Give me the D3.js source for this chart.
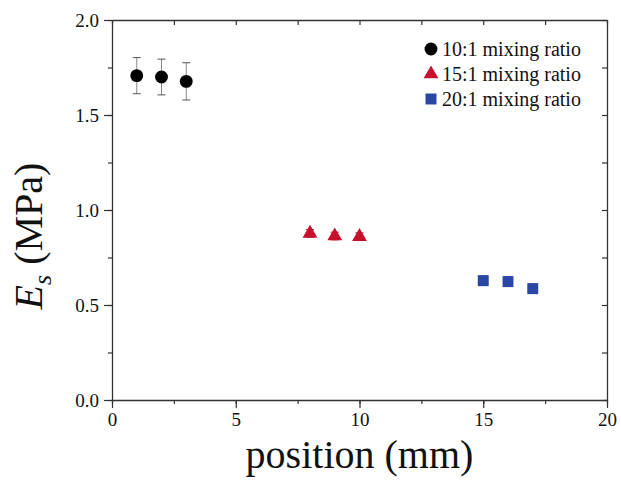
<!DOCTYPE html>
<html>
<head>
<meta charset="utf-8">
<script src="https://cdn.jsdelivr.net/npm/d3@7"></script>
<style>
  body { margin: 0; background: #fff; }
  text { font-family: "Liberation Serif", "Times New Roman", serif; }
</style>
</head>
<body>
<div class="chart"></div>
<script>
// data
var seriesNames = ["10:1 mixing ratio", "15:1 mixing ratio", "20:1 mixing ratio"];
var seriesColors = ["#000000", "#c8102e", "#2b47a6"];
var seriesShapes = ["circle", "triangle", "square"];
var pos10 = [1, 2, 3];
var es10 = [1.707, 1.700, 1.677];
var err10 = [0.095, 0.094, 0.098];
var pos15 = [8, 9, 10];
var es15 = [0.877, 0.863, 0.860];
var err15 = [0.02, 0.02, 0.02];
var pos20 = [15, 16, 17];
var es20 = [0.628, 0.623, 0.586];
var err20 = [0.025, 0.025, 0.025];
var xTicks = [0, 5, 10, 15, 20];
var yTicks = [0.0, 0.5, 1.0, 1.5, 2.0];

var W = 621, H = 481;
var pLeft = 112, pRight = 607, pTop = 20, pBottom = 400;

var svg = d3.select("div.chart").append("svg")
    .attr("width", W)
    .attr("height", H);

var x = d3.scaleLinear().domain([0, 20]).range([pLeft, pRight]);
var y = d3.scaleLinear().domain([0, 2]).range([pBottom, pTop]);

var minorX = d3.range(0, 20.01, 2.5);
var minorY = d3.range(0, 2.01, 0.25);

// bottom axis, ticks out
svg.append("g")
    .attr("transform", "translate(0," + pBottom + ")")
    .call(d3.axisBottom(x).tickValues(minorX).tickSize(4).tickFormat(""))
    .call(function(g){ g.select(".domain").remove(); });
svg.append("g")
    .attr("transform", "translate(0," + pBottom + ")")
    .call(d3.axisBottom(x).tickValues(xTicks).tickSize(8).tickSizeOuter(0).tickPadding(5).tickFormat(d3.format("d")))
    .attr("font-size", "19px");
// left axis, ticks out
svg.append("g")
    .attr("transform", "translate(" + pLeft + ",0)")
    .call(d3.axisLeft(y).tickValues(minorY).tickSize(4).tickFormat(""))
    .call(function(g){ g.select(".domain").remove(); });
svg.append("g")
    .attr("transform", "translate(" + pLeft + ",0)")
    .call(d3.axisLeft(y).tickValues(yTicks).tickSize(8).tickSizeOuter(0).tickPadding(5).tickFormat(d3.format(".1f")))
    .attr("font-size", "19px");
// top and right, ticks in
svg.append("g")
    .attr("transform", "translate(0," + pTop + ")")
    .call(d3.axisBottom(x).tickValues(minorX).tickSize(5).tickSizeOuter(0).tickFormat(""));
svg.append("g")
    .attr("transform", "translate(" + pRight + ",0)")
    .call(d3.axisLeft(y).tickValues(minorY).tickSize(5).tickSizeOuter(0).tickFormat(""));

svg.selectAll(".domain").attr("stroke", "#333").attr("stroke-width", 1.3);
svg.selectAll(".tick line").attr("stroke", "#333").attr("stroke-width", 1.2);
svg.selectAll(".tick text").attr("fill", "#111");

function drawSeries(xs, ys, es, color, shape){
    var g = svg.append("g");
    var pts = xs.map(function(d, i){ return {x: d, y: ys[i], e: es[i]}; });
    var eb = g.selectAll("g.eb").data(pts).enter().append("g");
    eb.append("line")
        .attr("x1", function(d){ return x(d.x); })
        .attr("x2", function(d){ return x(d.x); })
        .attr("y1", function(d){ return y(d.y + d.e); })
        .attr("y2", function(d){ return y(d.y - d.e); })
        .attr("stroke", shape == "circle" ? "#888" : color)
        .attr("stroke-width", 1);
    [1, -1].forEach(function(s){
        eb.append("line")
            .attr("x1", function(d){ return x(d.x) - 4; })
            .attr("x2", function(d){ return x(d.x) + 4; })
            .attr("y1", function(d){ return y(d.y + s * d.e); })
            .attr("y2", function(d){ return y(d.y + s * d.e); })
            .attr("stroke", shape == "circle" ? "#555" : color)
            .attr("stroke-width", 1);
    });
    drawMarkers(g, pts.map(function(d){ return [x(d.x), y(d.y)]; }), color, shape);
}

function drawMarkers(g, xy, color, shape){
    var sym = shape == "circle" ? d3.symbolCircle : (shape == "triangle" ? d3.symbolTriangle : d3.symbolSquare);
    var size = shape == "circle" ? 130 : (shape == "triangle" ? 95 : 120);
    g.selectAll("path.m").data(xy).enter().append("path")
        .attr("class", "m")
        .attr("d", d3.symbol().type(sym).size(size))
        .attr("transform", function(d){ return "translate(" + d[0] + "," + d[1] + ")"; })
        .attr("fill", color);
}

drawSeries(pos10, es10, err10, seriesColors[0], seriesShapes[0]);
drawSeries(pos15, es15, err15, seriesColors[1], seriesShapes[1]);
drawSeries(pos20, es20, err20, seriesColors[2], seriesShapes[2]);

// legend
var legend = svg.append("g");
seriesNames.forEach(function(name, i){
    var base = 56 + i * 25;
    drawMarkers(legend.append("g"), [[431, base - 7]], seriesColors[i], seriesShapes[i]);
    legend.append("text")
        .text(name)
        .attr("x", 442)
        .attr("y", base)
        .attr("font-size", "20px")
        .attr("fill", "#111");
});

// axis titles
svg.append("text")
    .text("position (mm)")
    .attr("x", (pLeft + pRight) / 2)
    .attr("y", 468)
    .attr("text-anchor", "middle")
    .attr("font-size", "40px")
    .attr("fill", "#111");

var yl = svg.append("text")
    .attr("transform", "translate(42,236) rotate(-90)")
    .attr("text-anchor", "middle")
    .attr("font-size", "40px")
    .attr("fill", "#111");
yl.append("tspan").text("E").attr("font-style", "italic");
yl.append("tspan").text("s").attr("font-style", "italic").attr("font-size", "26px").attr("dy", 9);
yl.append("tspan").text(" (MPa)").attr("dy", -9);
</script>
</body>
</html>
